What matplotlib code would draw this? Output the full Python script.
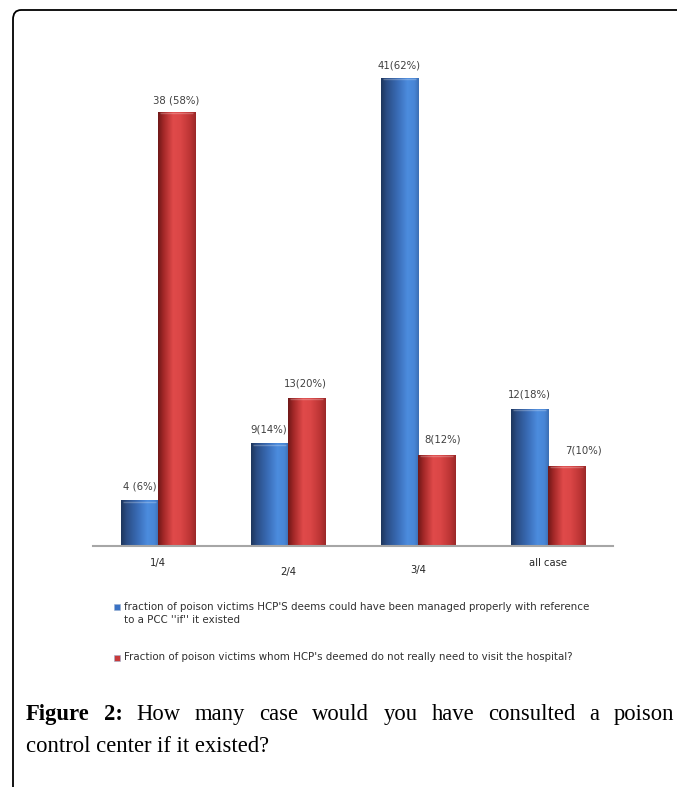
import matplotlib
matplotlib.use("Agg")
import matplotlib.pyplot as plt
import numpy as np
from matplotlib.colors import LinearSegmentedColormap
from matplotlib.patches import FancyBboxPatch

categories = ["1/4", "2/4", "3/4", "all case"]
series_names = [
    "fraction of poison victims HCP'S deems could have been managed properly with reference\nto a PCC ''if'' it existed",
    "Fraction of poison victims whom HCP's deemed do not really need to visit the hospital?",
]
blue_values = [4, 9, 41, 12]
red_values = [38, 13, 8, 7]
blue_labels = ["4 (6%)", "9(14%)", "41(62%)", "12(18%)"]
red_labels = ["38 (58%)", "13(20%)", "8(12%)", "7(10%)"]
caption_line1 = "Figure 2: How many case would you have consulted a poison"
caption_line2 = "control center if it existed?"

W, H = 677, 787
DPI = 100
fig = plt.figure(figsize=(W / DPI, H / DPI), dpi=DPI)
fig.patch.set_facecolor("white")

# frame (rounded, extending beyond figure on right/bottom)
frame = FancyBboxPatch((13 / W, -0.2), 1.2, (H - 10) / H + 0.2,
                       boxstyle="round,pad=0,rounding_size=0.012",
                       transform=fig.transFigure, fill=False,
                       edgecolor="black", linewidth=1.3, clip_on=False)
fig.patches.append(frame)

ax_left, ax_right = 93, 613
baseline = 546
px_per_unit = 11.42
ymax = 45
ax_bottom_px = H - baseline
ax_h_px = ymax * px_per_unit
ax = fig.add_axes([ax_left / W, ax_bottom_px / H, (ax_right - ax_left) / W, ax_h_px / H])
ax.set_xlim(-0.5, len(categories) - 0.5)
ax.set_ylim(0, ymax)
for s in ["left", "right", "top"]:
    ax.spines[s].set_visible(False)
ax.spines["bottom"].set_color("#a6a6a6")
ax.spines["bottom"].set_linewidth(1.5)
ax.set_yticks([])
ax.set_xticks([])
ax.patch.set_alpha(0)

bw = 0.285
blue_cmap = LinearSegmentedColormap.from_list("b", [
    (0.0, "#1d365c"), (0.15, "#2a4d85"), (0.45, "#3a6db8"),
    (0.7, "#4c8cde"), (0.88, "#4886d6"), (1.0, "#3c6eb2")])
red_cmap = LinearSegmentedColormap.from_list("r", [
    (0.0, "#6e1818"), (0.15, "#a42828"), (0.4, "#e04a4a"),
    (0.6, "#da4646"), (0.85, "#bc3434"), (1.0, "#9a2828")])
grad = np.linspace(0, 1, 256).reshape(1, -1)

x = np.arange(len(categories))
bars_b = ax.bar(x - bw / 2, blue_values, width=bw, color="#3a6fc0", linewidth=0)
bars_r = ax.bar(x + bw / 2, red_values, width=bw, color="#c83a3a", linewidth=0)
for bars, cmap in [(bars_b, blue_cmap), (bars_r, red_cmap)]:
    for b in bars:
        x0, w, h = b.get_x(), b.get_width(), b.get_height()
        im = ax.imshow(grad, cmap=cmap, aspect="auto", extent=[x0, x0 + w, 0, h],
                       interpolation="bilinear", zorder=2)
        im.set_clip_path(b)
        ax.plot([x0 + w * 0.05, x0 + w * 0.95], [h - 0.12, h - 0.12],
                color="white", alpha=0.25, lw=1, zorder=3, solid_capstyle="butt")
ax.set_xlim(-0.5, len(categories) - 0.5)
ax.set_ylim(0, ymax)

label_color = "#404040"
blue_dx = [0, -1, 0, 0]
red_dx = [0, -1, 6, 17]
gap_b = [14, 14, 12, 14]
gap_r = [12, 14, 15, 16]
for i in range(len(categories)):
    xb = bars_b[i].get_x() + bw / 2
    xr = bars_r[i].get_x() + bw / 2
    ax.annotate(blue_labels[i], (xb, blue_values[i]), xytext=(blue_dx[i] * 0.72, gap_b[i] * 0.72),
                textcoords="offset points", ha="center", va="center", fontsize=7.3,
                color=label_color, family="DejaVu Sans")
    ax.annotate(red_labels[i], (xr, red_values[i]), xytext=(red_dx[i] * 0.72, gap_r[i] * 0.72),
                textcoords="offset points", ha="center", va="center", fontsize=7.3,
                color=label_color, family="DejaVu Sans")

# category labels (staggered as in source)
cat_dy = [17, 26, 24, 17]
for i, c in enumerate(categories):
    ax.annotate(c, (x[i], 0), xytext=(0, -cat_dy[i] * 0.72), textcoords="offset points",
                ha="center", va="center", fontsize=7.2, color="#262626", family="DejaVu Sans")

# legend
leg_colors = ["#3a72c4", "#c83a3a"]
leg_y = [607, 658]
for name, col, yy in zip(series_names, leg_colors, leg_y):
    fig.patches.append(plt.Rectangle(((117 - 3) / W, (H - yy - 3) / H), 6 / W, 6 / H,
                                     transform=fig.transFigure, facecolor=col,
                                     edgecolor="#9ab0d0", linewidth=0.4))
    fig.text(124 / W, (H - yy + 5.5) / H, name, ha="left", va="top", fontsize=7.4,
             color="#303030", family="DejaVu Sans", linespacing=1.45)

# caption with justified first line
words = ["Figure", "2:"] + caption_line1.split(" ")[2:]
bold = [True, True] + [False] * (len(words) - 2)
cap_fs = 16.3
y1 = (H - 720) / H
y2 = (H - 752) / H
texts = []
for w_, b_ in zip(words, bold):
    texts.append(fig.text(0, y1, w_, fontsize=cap_fs, family="Liberation Serif",
                          fontweight="bold" if b_ else "normal", ha="left", va="baseline",
                          color="black"))
fig.text(26 / W, y2, caption_line2, fontsize=cap_fs, family="Liberation Serif",
         ha="left", va="baseline", color="black")
fig.canvas.draw()
r = fig.canvas.get_renderer()
widths = [t.get_window_extent(r).width for t in texts]
left, right = 26, 674
gap = (right - left - sum(widths)) / (len(words) - 1)
cur = left
for t, wd in zip(texts, widths):
    t.set_x(cur / W)
    cur += wd + gap

fig.savefig("out.png", dpi=DPI, facecolor="white")
